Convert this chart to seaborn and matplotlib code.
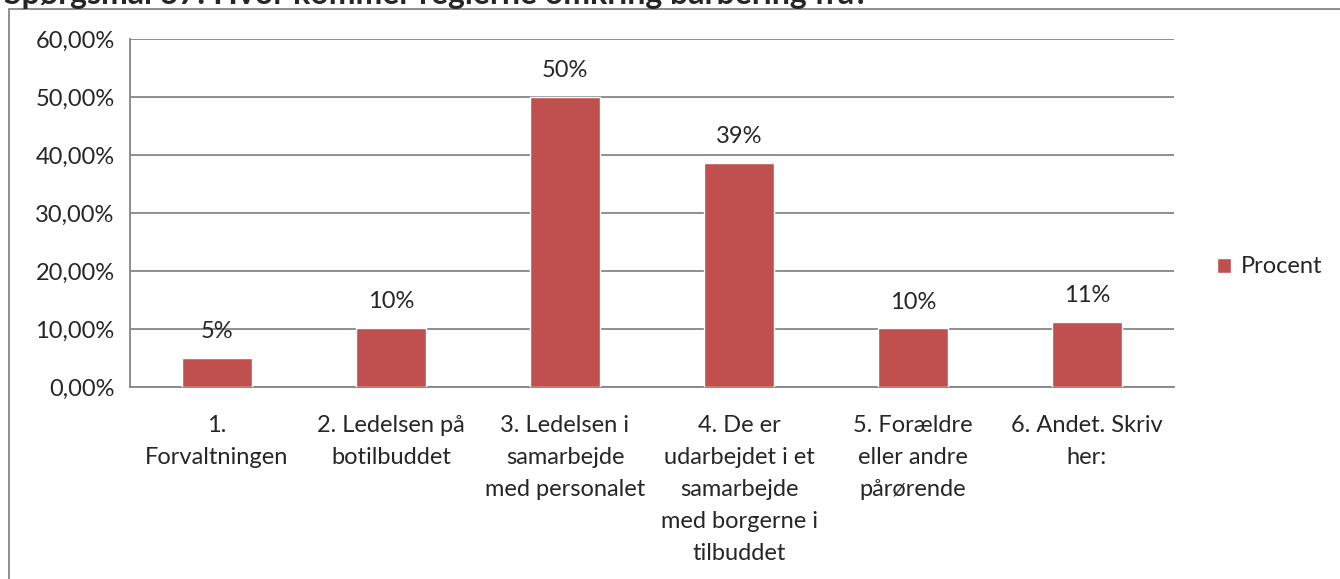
import matplotlib
matplotlib.use("Agg")
import matplotlib.pyplot as plt
from matplotlib.patches import Rectangle
from matplotlib.ticker import FuncFormatter, FixedLocator
import pandas as pd
import seaborn as sns

# ---------------------------------------------------------------------------
# Data
# ---------------------------------------------------------------------------
TITLE = "Spørgsmål 37: Hvor kommer reglerne omkring barbering fra?"
categories = [
    "1.\nForvaltningen",
    "2. Ledelsen på\nbotilbuddet",
    "3. Ledelsen i\nsamarbejde\nmed personalet",
    "4. De er\nudarbejdet i et\nsamarbejde\nmed borgerne i\ntilbuddet",
    "5. Forældre\neller andre\npårørende",
    "6. Andet. Skriv\nher:",
]
procent = [5.0, 10.2, 50.0, 38.6, 10.1, 11.15]
series_name = "Procent"
y_ticks = [0, 10, 20, 30, 40, 50, 60]

BAR_COLOR = "#C0504D"
GRAY = "#868686"
FS = 17

df = pd.DataFrame({"Kategori": categories, "Procent": procent, "Serie": series_name})

# ---------------------------------------------------------------------------
# Plot
# ---------------------------------------------------------------------------
sns.set_style("white")
plt.rcParams["font.family"] = ["Lato", "DejaVu Sans"]

fig = plt.figure(figsize=(13.4, 5.79), dpi=100)
ax = fig.add_axes([130 / 1340, 1 - 387 / 579, (1174 - 130) / 1340, (387 - 39) / 579])

sns.barplot(data=df, x="Kategori", y="Procent", hue="Serie",
            palette=[BAR_COLOR], width=0.4, saturation=1, ax=ax, zorder=3)

ax.set_xlim(-0.5, len(categories) - 0.5)
ax.set_ylim(0, 60)
ax.set_yticks(y_ticks)
ax.yaxis.set_major_formatter(FuncFormatter(lambda v, _: f"{v:.2f}%".replace(".", ",")))
ax.grid(axis="y", color=GRAY, lw=1.3, zorder=0)
ax.set_axisbelow(True)
ax.set_xlabel("")
ax.set_ylabel("")

# category boundaries get the tick marks, labels sit in the middle
ax.xaxis.set_minor_locator(FixedLocator([i - 0.5 for i in range(len(categories) + 1)]))
ax.tick_params(axis="x", which="major", length=0, pad=20, labelsize=FS)
ax.tick_params(axis="x", which="minor", length=6, width=1.3, color=GRAY, direction="out")
ax.tick_params(axis="y", length=6, width=1.3, color=GRAY, direction="out", pad=5, labelsize=FS)
for lbl in ax.get_xticklabels():
    lbl.set_linespacing(1.65)
    lbl.set_verticalalignment("top")

for side in ["top", "right"]:
    ax.spines[side].set_visible(False)
for side in ["left", "bottom"]:
    ax.spines[side].set_color(GRAY)
    ax.spines[side].set_linewidth(1.3)

for i, v in enumerate(procent):
    ax.annotate(f"{round(v)}%", (i, v), xytext=(0, 19), textcoords="offset points",
                ha="center", va="center", fontsize=FS)

ax.legend(loc="center left", bbox_to_anchor=(1.03, 0.345), frameon=False,
          handlelength=0.6, handleheight=0.6, handletextpad=0.4,
          borderpad=0, fontsize=FS)

# outer chart frame and the clipped title above it
fig.patches.append(Rectangle((9 / 1340, -0.1), 1.5, 1 - 9 / 579 + 0.1,
                             transform=fig.transFigure, fill=False,
                             edgecolor=GRAY, lw=1.3))
fig.text(4 / 1340, 1 - 4 / 579, TITLE, fontsize=23, fontweight="bold",
         ha="left", va="baseline")

fig.savefig("out.png", dpi=100)
